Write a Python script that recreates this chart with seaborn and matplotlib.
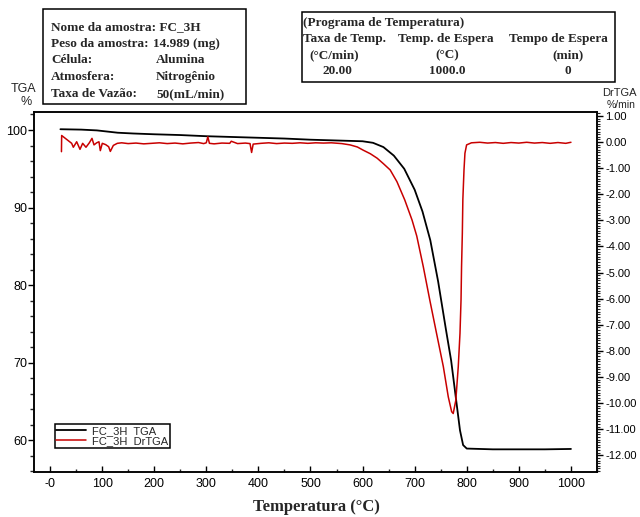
import numpy as np
import pandas as pd
import matplotlib
matplotlib.use("Agg")
import matplotlib.pyplot as plt
import seaborn as sns
from matplotlib.patches import Rectangle
from matplotlib.ticker import MultipleLocator, FixedLocator

# ---------------- data ----------------
tga_T = [20, 60, 90, 110, 130, 160, 200, 250, 300, 350, 400, 450, 500, 550, 600, 620,
         640, 660, 680, 700, 715, 730, 745, 760, 770, 780, 787, 793, 800, 850, 900, 950, 1000]
tga_v = [100.1, 100.05, 99.95, 99.8, 99.65, 99.55, 99.45, 99.35, 99.2, 99.1, 99.0, 98.9,
         98.75, 98.65, 98.55, 98.35, 97.8, 96.7, 95.0, 92.3, 89.5, 85.8, 80.5, 74.3, 70.3,
         65.0, 61.3, 59.4, 58.95, 58.85, 58.85, 58.85, 58.9]

dr_T = [22, 22.4, 41.6, 44.8, 51.2, 57.6, 62.7, 69.1, 75.5, 80.6, 84.5, 89.6, 94.0, 96.6,
        100.4, 106.9, 112.6, 115.8, 121.6, 129.2, 137.6, 150, 165, 180, 195, 210, 225, 240,
        255, 270, 285, 295, 300, 303, 306, 315, 330, 345, 348, 360, 375, 384, 387, 390, 405,
        420, 435, 450, 465, 480, 495, 510, 525, 540, 560, 576, 590, 601, 615, 628, 640, 653,
        666, 681, 695, 704, 716.6, 729, 742, 755, 764.5, 771, 774, 779, 783.7, 787, 789, 790,
        791.5, 792.5, 794.7, 796.5, 799.7, 809, 825, 840, 855, 870, 885, 900, 915, 930, 945,
        960, 975, 990, 1000]
dr_v = [-0.37, 0.25, -0.05, -0.20, 0.01, -0.28, -0.05, -0.20, -0.03, 0.14, -0.11, -0.03, 0.01,
        -0.33, -0.05, -0.10, -0.18, -0.36, -0.13, -0.05, -0.03, -0.06, -0.04, -0.07, -0.05,
        -0.03, -0.06, -0.04, -0.07, -0.04, -0.02, -0.06, -0.03, 0.20, -0.05, -0.07, -0.04,
        -0.05, 0.03, -0.06, -0.04, -0.06, -0.40, -0.08, -0.05, -0.03, -0.06, -0.04, -0.05,
        -0.03, -0.05, -0.03, -0.04, -0.03, -0.06, -0.11, -0.19, -0.31, -0.45, -0.62, -0.83,
        -1.07, -1.52, -2.22, -2.99, -3.60, -4.78, -6.05, -7.33, -8.60, -9.76, -10.33, -10.40,
        -9.89, -8.60, -7.33, -6.05, -4.78, -3.50, -2.20, -1.07, -0.43, -0.11, -0.03, -0.01,
        -0.04, -0.02, -0.05, -0.02, -0.04, -0.01, -0.04, -0.02, -0.05, -0.02, -0.05, -0.01]
assert len(dr_T) == len(dr_v)

x_ticks = [0, 100, 200, 300, 400, 500, 600, 700, 800, 900, 1000]
x_tick_labels = ["-0", "100", "200", "300", "400", "500", "600", "700", "800", "900", "1000"]
left_ticks = [60, 70, 80, 90, 100]
right_ticks = [1, 0, -1, -2, -3, -4, -5, -6, -7, -8, -9, -10, -11, -12]
right_tick_labels = ["1.00", "0.00", "-1.00", "-2.00", "-3.00", "-4.00", "-5.00", "-6.00",
                     "-7.00", "-8.00", "-9.00", "-10.00", "-11.00", "-12.00"]
legend_labels = ["FC_3H  TGA", "FC_3H  DrTGA"]

info_left = [("Nome da amostra: FC_3H", None),
             ("Peso da amostra:", "14.989 (mg)"),
             ("Célula:", "Alumina"),
             ("Atmosfera:", "Nitrogênio"),
             ("Taxa de Vazão:", "50(mL/min)")]

tga_df = pd.DataFrame({"T": tga_T, "v": tga_v})
dr_df = pd.DataFrame({"T": dr_T, "v": dr_v})

# ---------------- figure ----------------
sns.set_theme(style="white")
plt.rcParams["font.family"] = ["Liberation Sans", "DejaVu Sans"]

W, H = 640, 517
fig = plt.figure(figsize=(W / 100, H / 100), dpi=100)
L, R, T_, B = 34, 597, 112, 472
ax = fig.add_axes([L / W, 1 - B / H, (R - L) / W, (B - T_) / H])
ax2 = ax.twinx()

sns.lineplot(data=tga_df, x="T", y="v", ax=ax, color="black", lw=1.3,
             sort=False, estimator=None, zorder=3)
sns.lineplot(data=dr_df, x="T", y="v", ax=ax2, color="#c80000", lw=1.1,
             sort=False, estimator=None)

ax.set_xlim(-30.7, 1050)
ax.set_ylim(55.93, 102.32)
ax2.set_ylim(-12.64, 1.15)
ax.set_xlabel("")
ax.set_ylabel("")
ax2.set_ylabel("")

ax.xaxis.set_major_locator(FixedLocator(x_ticks))
ax.set_xticklabels(x_tick_labels)
ax.xaxis.set_minor_locator(MultipleLocator(50))
ax.yaxis.set_major_locator(FixedLocator(left_ticks))
ax.yaxis.set_minor_locator(MultipleLocator(2))
ax2.yaxis.set_major_locator(FixedLocator(right_ticks))
ax2.set_yticklabels(right_tick_labels)
ax2.yaxis.set_minor_locator(MultipleLocator(0.1))

ax.tick_params(axis="x", which="major", direction="in", length=4, width=1,
               labelsize=9, pad=4, colors="black", bottom=True, top=False)
ax.tick_params(axis="x", which="minor", direction="in", length=2, width=1, bottom=True, top=False)
ax.tick_params(axis="y", which="major", direction="out", length=4, width=1,
               labelsize=9, pad=1, left=True, colors="black")
ax.tick_params(axis="y", which="minor", direction="out", length=3, width=1, left=True)
ax2.tick_params(axis="y", which="major", direction="out", length=4, width=1,
                labelsize=8, pad=2, right=True, colors="black")
ax2.tick_params(axis="y", which="minor", direction="out", length=2, width=0.8, right=True)

for a in (ax, ax2):
    for s in a.spines.values():
        s.set_visible(True)
        s.set_color("black")
        s.set_linewidth(1.1)

# legend
h = [ax.lines[0], ax2.lines[0]]
leg = ax.legend(h, legend_labels, loc="lower left", bbox_to_anchor=(0.037, 0.067),
                borderaxespad=0, fontsize=8, frameon=True, fancybox=False,
                edgecolor="black", framealpha=1, borderpad=0.15, labelspacing=0.05,
                handlelength=2.7, handletextpad=0.5)
leg.get_frame().set_linewidth(1.1)
leg.set_zorder(10)

# axis labels
def ftext(px, py, s, **kw):
    fig.text(px / W, 1 - py / H, s, **kw)

ftext(316, 507, "Temperatura (°C)", ha="center", va="center",
      family=["Liberation Serif", "DejaVu Serif"], fontweight="bold", fontsize=12)
ftext(24, 89, "TGA", ha="center", va="center", fontsize=9)
ftext(26, 102, "%", ha="center", va="center", fontsize=9)
ftext(619, 93, "DrTGA", ha="center", va="center", fontsize=8)
ftext(621, 105, "%/min", ha="center", va="center", fontsize=7.5)

# info boxes
serif = dict(family=["Liberation Serif", "DejaVu Serif"], fontweight="bold", fontsize=9.5,
             va="center")
fig.patches.append(Rectangle((43 / W, 1 - 104 / H), (246 - 43) / W, (104 - 9) / H,
                             transform=fig.transFigure, fill=False, lw=1.1, ec="black"))
ys = [27, 44, 60, 77, 94]
for (a, b), y in zip(info_left, ys):
    ftext(51, y, a, ha="left", **serif)
    if b is not None:
        ftext(153 if y == 44 else 156, y, b, ha="left", **serif)

fig.patches.append(Rectangle((302 / W, 1 - 82 / H), (615 - 302) / W, (82 - 12) / H,
                             transform=fig.transFigure, fill=False, lw=1.1, ec="black"))
ftext(303, 23, "(Programa de Temperatura)", ha="left", **serif)
ftext(303, 39, "Taxa de Temp.", ha="left", **serif)
ftext(398, 39, "Temp. de Espera", ha="left", **serif)
ftext(509, 39, "Tempo de Espera", ha="left", **serif)
ftext(334, 55, "(°C/min)", ha="center", **serif)
ftext(447, 55, "(°C)", ha="center", **serif)
ftext(568, 55, "(min)", ha="center", **serif)
ftext(337, 71, "20.00", ha="center", **serif)
ftext(447, 71, "1000.0", ha="center", **serif)
ftext(568, 71, "0", ha="center", **serif)

fig.savefig("out.png", dpi=100)
